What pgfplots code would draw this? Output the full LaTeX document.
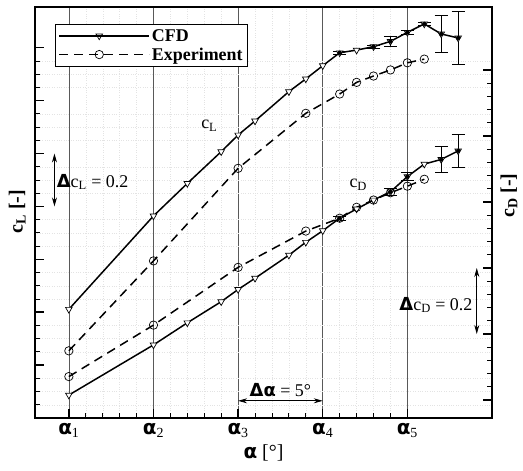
\documentclass[border=0pt]{standalone}
\usepackage{fontspec}
\setmainfont{Liberation Serif}
\newfontfamily\symf{DejaVu Sans}
\usepackage{pgfplots}
\usepackage{pgfplotstable}
\pgfplotsset{compat=1.18}
\usetikzlibrary{arrows.meta}
\newcommand{\al}{{\symf\bfseries α}}
\newcommand{\De}{{\symf\bfseries Δ}}
\newcommand{\sub}[1]{\textsubscript{#1}}

\pgfplotstableread{
x cl
0 0.411
5 0.764
7 0.887
9 1.007
10 1.070
11 1.123
13 1.234
14 1.282
15 1.332
16 1.381
17 1.391
18 1.404
19 1.424
20 1.458
21 1.490
22 1.452
23 1.437
}\cfdcl
\pgfplotstableread{
x cl e
16 1.381 0.006
18 1.404 0.006
19 1.424 0.020
20 1.458 0.008
21 1.490 0.006
22 1.452 0.069
23 1.437 0.099
}\cfdclerr
\pgfplotstableread{
x cl
0 0.254
5 0.594
10 0.944
14 1.152
16 1.225
17 1.269
18 1.293
19 1.316
20 1.343
21 1.357
}\expcl
\pgfplotstableread{
x cd
0 0.015
5 0.167
7 0.234
9 0.298
10 0.335
11 0.369
13 0.439
14 0.478
15 0.513
16 0.551
17 0.579
18 0.606
19 0.631
20 0.677
21 0.715
22 0.729
23 0.755
}\cfdcd
\pgfplotstableread{
x cd e
16 0.551 0.006
19 0.631 0.010
20 0.677 0.012
22 0.729 0.040
23 0.755 0.049
}\cfdcderr
\pgfplotstableread{
x cd
0 0.071
5 0.227
10 0.402
14 0.512
16 0.551
17 0.584
18 0.606
19 0.628
20 0.648
21 0.669
}\expcd

\pgfplotsset{
  common/.style={
    scale only axis, width=457bp, height=411bp,
    xmin=-2, xmax=25,
    tick align=inside,
    every major tick/.append style={line width=1.5pt, black},
    every minor tick/.append style={line width=0.8pt, black},
    major tick length=9bp, minor tick length=5bp,
  },
  cfd/.style={black, line width=1.5pt, mark=triangle*, mark size=3.8bp,
    mark options={rotate=180, fill=white, solid, line width=0.7pt}},
  expe/.style={black, line width=1.5pt, dash pattern=on 9bp off 6bp, mark=o, mark size=4.2bp,
    mark options={solid, line width=0.7pt}},
  errst/.style={only marks, mark=none, forget plot,
    error bars/.cd, y dir=both, y explicit,
    error bar style={line width=0.8pt, solid, black},
    error mark options={line width=0.8pt, mark size=6.5bp, rotate=90}},
}

\begin{document}
\begin{tikzpicture}
\begin{axis}[common,
  ymin=0, ymax=1.554,
  axis line style={line width=2.2pt},
  xtick={0,5,10,15,20},
  xticklabels={\al\sub{1},\al\sub{2},\al\sub{3},\al\sub{4},\al\sub{5}},
  xticklabel style={font=\fontsize{20}{22}\selectfont, yshift=-2bp},
  minor x tick num=4,
  ytick={0,0.2,...,1.41}, yticklabels={},
  minor y tick num=3,
  xtick pos=bottom, ytick pos=left,
  xmajorgrids=true, xminorgrids=true, yminorgrids=true,
  major grid style={line width=0.6pt, gray!70!black, solid},
  minor grid style={line width=0.4pt, gray!22, dotted},
  xlabel={\al\ [°]},
  xlabel style={at={(axis description cs:0.5,-0.085)}, anchor=center, font=\fontsize{20}{22}\selectfont},
  ylabel={\textbf{c\sub{L} [-]}},
  ylabel style={at={(axis description cs:-0.039,0.502)}, anchor=center, font=\fontsize{20}{22}\selectfont},
  legend style={at={(axis description cs:0.044,0.959)}, anchor=north west,
    draw=black, line width=0.8pt, font=\fontsize{18}{21}\selectfont\bfseries,
    cells={anchor=west}, inner xsep=3bp, inner ysep=3bp, row sep=1bp},
  legend image code/.code={
    \draw[line width=1.5pt, mark repeat=2, mark phase=2] plot coordinates {(0bp,0bp) (40bp,0bp) (80bp,0bp)};
    \path (0bp,0bp) -- (90bp,0bp);},
]
\addplot[cfd] table[x=x, y=cl] {\cfdcl};
\addlegendentry{CFD}
\addplot[expe] table[x=x, y=cl] {\expcl};
\addlegendentry{Experiment}
\addplot[errst] table[x=x, y=cl, y error=e] {\cfdclerr};

\node[font=\fontsize{18}{20}\selectfont] at (axis cs:8.3,1.104) {c\sub{L}};
\draw[line width=0.8pt, {Stealth[length=9bp,width=5bp]}-{Stealth[length=9bp,width=5bp]}] (axis cs:-0.85,1.0) -- (axis cs:-0.85,0.8);
\node[anchor=west, font=\fontsize{18}{20}\selectfont, inner sep=0pt] at (axis cs:-0.72,0.892) {\De c\sub{L} = 0.2};
\draw[line width=0.8pt, {Stealth[length=9bp,width=5bp]}-{Stealth[length=9bp,width=5bp]}] (axis cs:10,0.065) -- (axis cs:15,0.065);
\node[font=\fontsize{18}{20}\selectfont, inner sep=0pt] at (axis cs:12.5,0.104) {\De{\symf\bfseries α} = 5°};
\end{axis}

\begin{axis}[common,
  ymin=-0.0545, ymax=1.191,
  axis line style={draw=none},
  xtick=\empty,
  ytick={0,0.2,...,1.01}, yticklabels={},
  minor y tick num=4,
  ytick pos=right,
  ylabel={\textbf{c\sub{D} [-]}},
  ylabel style={at={(axis description cs:1.037,0.541)}, anchor=center, font=\fontsize{20}{22}\selectfont},
]
\addplot[cfd] table[x=x, y=cd] {\cfdcd};
\addplot[expe] table[x=x, y=cd] {\expcd};
\addplot[errst] table[x=x, y=cd, y error=e] {\cfdcderr};
\node[font=\fontsize{18}{20}\selectfont] at (axis cs:17.1,0.652) {c\sub{D}};
\draw[line width=0.8pt, {Stealth[length=9bp,width=5bp]}-{Stealth[length=9bp,width=5bp]}] (axis cs:24.1,0.2) -- (axis cs:24.1,0.4);
\node[anchor=east, font=\fontsize{18}{20}\selectfont, inner sep=0pt] at (axis cs:23.85,0.288) {\De c\sub{D} = 0.2};
\end{axis}
\pgfresetboundingbox
\path (-35bp,-53bp) rectangle (488bp,418bp);
\end{tikzpicture}
\end{document}
